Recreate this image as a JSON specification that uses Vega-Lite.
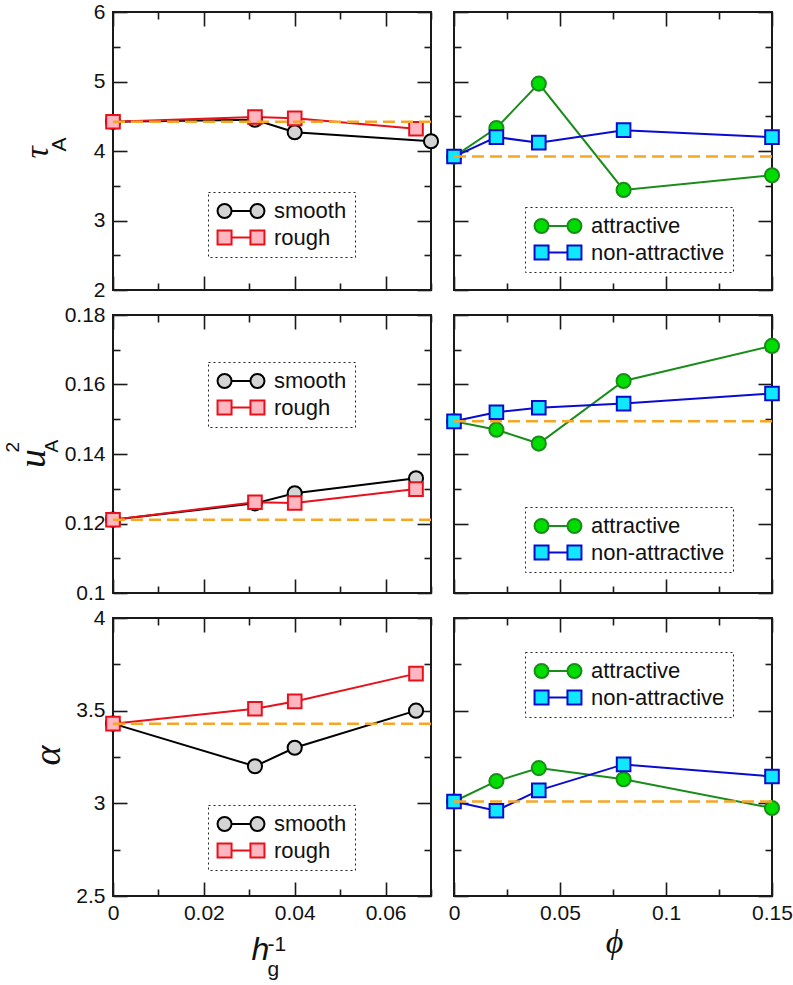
{
"$schema": "https://vega.github.io/schema/vega-lite/v6.json",
"background": "white",
"padding": {"left": 2, "top": 0, "right": 0, "bottom": 0},
"datasets": {
"pts": [
{"p":"tau_h","s":"smooth","x":0,"y":4.42},{"p":"tau_h","s":"smooth","x":0.03125,"y":4.45},{"p":"tau_h","s":"smooth","x":0.04,"y":4.27},{"p":"tau_h","s":"smooth","x":0.07,"y":4.14},
{"p":"tau_h","s":"rough","x":0,"y":4.42},{"p":"tau_h","s":"rough","x":0.03125,"y":4.49},{"p":"tau_h","s":"rough","x":0.04,"y":4.47},{"p":"tau_h","s":"rough","x":0.0667,"y":4.32},
{"p":"tau_phi","s":"attractive","x":0,"y":3.92},{"p":"tau_phi","s":"attractive","x":0.02,"y":4.33},{"p":"tau_phi","s":"attractive","x":0.04,"y":4.97},{"p":"tau_phi","s":"attractive","x":0.08,"y":3.44},{"p":"tau_phi","s":"attractive","x":0.15,"y":3.65},
{"p":"tau_phi","s":"non-attractive","x":0,"y":3.92},{"p":"tau_phi","s":"non-attractive","x":0.02,"y":4.2},{"p":"tau_phi","s":"non-attractive","x":0.04,"y":4.12},{"p":"tau_phi","s":"non-attractive","x":0.08,"y":4.3},{"p":"tau_phi","s":"non-attractive","x":0.15,"y":4.2},
{"p":"u_h","s":"smooth","x":0,"y":0.1211},{"p":"u_h","s":"smooth","x":0.03125,"y":0.1258},{"p":"u_h","s":"smooth","x":0.04,"y":0.1287},{"p":"u_h","s":"smooth","x":0.0667,"y":0.133},
{"p":"u_h","s":"rough","x":0,"y":0.1211},{"p":"u_h","s":"rough","x":0.03125,"y":0.1261},{"p":"u_h","s":"rough","x":0.04,"y":0.1259},{"p":"u_h","s":"rough","x":0.0667,"y":0.1299},
{"p":"u_phi","s":"attractive","x":0,"y":0.1494},{"p":"u_phi","s":"attractive","x":0.02,"y":0.147},{"p":"u_phi","s":"attractive","x":0.04,"y":0.143},{"p":"u_phi","s":"attractive","x":0.08,"y":0.161},{"p":"u_phi","s":"attractive","x":0.15,"y":0.1711},
{"p":"u_phi","s":"non-attractive","x":0,"y":0.1494},{"p":"u_phi","s":"non-attractive","x":0.02,"y":0.152},{"p":"u_phi","s":"non-attractive","x":0.04,"y":0.1533},{"p":"u_phi","s":"non-attractive","x":0.08,"y":0.1545},{"p":"u_phi","s":"non-attractive","x":0.15,"y":0.1574},
{"p":"a_h","s":"smooth","x":0,"y":3.43},{"p":"a_h","s":"smooth","x":0.03125,"y":3.2},{"p":"a_h","s":"smooth","x":0.04,"y":3.3},{"p":"a_h","s":"smooth","x":0.0667,"y":3.5},
{"p":"a_h","s":"rough","x":0,"y":3.43},{"p":"a_h","s":"rough","x":0.03125,"y":3.51},{"p":"a_h","s":"rough","x":0.04,"y":3.55},{"p":"a_h","s":"rough","x":0.0667,"y":3.7},
{"p":"a_phi","s":"attractive","x":0,"y":3.01},{"p":"a_phi","s":"attractive","x":0.02,"y":3.12},{"p":"a_phi","s":"attractive","x":0.04,"y":3.19},{"p":"a_phi","s":"attractive","x":0.08,"y":3.13},{"p":"a_phi","s":"attractive","x":0.15,"y":2.975},
{"p":"a_phi","s":"non-attractive","x":0,"y":3.01},{"p":"a_phi","s":"non-attractive","x":0.02,"y":2.96},{"p":"a_phi","s":"non-attractive","x":0.04,"y":3.07},{"p":"a_phi","s":"non-attractive","x":0.08,"y":3.21},{"p":"a_phi","s":"non-attractive","x":0.15,"y":3.145}
],
"base": [
{"p":"tau_h","y":4.42},{"p":"tau_phi","y":3.92},{"p":"u_h","y":0.1211},{"p":"u_phi","y":0.1494},{"p":"a_h","y":3.43},{"p":"a_phi","y":3.01}
]
},
"config": {
"view": {"stroke": "#1a1a1a", "strokeWidth": 2},
"axis": {"domain": false, "grid": false, "labelFont": "Liberation Sans", "labelFontSize": 21, "labelColor": "#111", "tickColor": "#1a1a1a", "tickWidth": 1.6, "titleColor": "#111", "titleFontWeight": "normal", "labelOverlap": false, "labelFlush": false, "labelBound": false},
"legend": {"labelFont": "Liberation Sans", "labelFontSize": 22, "labelColor": "#111", "title": null, "symbolSize": 196, "symbolStrokeWidth": 2, "symbolOffset": 14, "labelOffset": 22, "rowPadding": 3.5, "padding": 8, "strokeColor": "#222"}
},
"columns": 2,
"spacing": {"row": 2, "column": -3},
"resolve": {"scale": {"x": "independent", "y": "independent", "stroke": "independent", "fill": "independent"}, "legend": {"stroke": "independent", "fill": "independent"}},
"concat": [
{
"width": 318, "height": 278,
"resolve": {"axis": {"x": "independent", "y": "independent"}},
"layer": [
{"data": {"name": "pts"}, "transform": [{"filter": "datum.p === 'tau_h'"}],
 "mark": {"type": "line", "strokeWidth": 2},
 "encoding": {
  "x": {"field": "x", "type": "quantitative", "scale": {"domain": [0, 0.07], "nice": false, "zero": false}, "axis": {"orient": "bottom", "values": [0,0.01,0.02,0.03,0.04,0.05,0.06,0.07], "tickSize": {"condition": {"test": "round(datum.value*100) % 2 === 0", "value": -14}, "value": -7}, "labels": false, "title": null}},
  "y": {"field": "y", "type": "quantitative", "scale": {"domain": [2, 6], "nice": false, "zero": false}, "axis": {"orient": "right", "values": [2,2.5,3,3.5,4,4.5,5,5.5,6], "tickSize": {"condition": {"test": "round(datum.value*2) % 2 === 0", "value": -14}, "value": -7}, "labels": false, "title": null}},
  "stroke": {"field": "s", "type": "nominal", "scale": {"domain": ["smooth", "rough"], "range": ["#000000", "#e8101a"]},
   "legend": {"orient": "none", "legendX": 95, "legendY": 180, "symbolType": {"expr": "datum.value === 'smooth' ? 'M-3.35,0A1,1,0,1,1,-1.35,0A1,1,0,1,1,-3.35,0ZM-1.35,0L1.35,0M1.35,0A1,1,0,1,1,3.35,0A1,1,0,1,1,1.35,0Z' : 'M-3.35,-1H-1.35V1H-3.35ZM-1.35,0H1.35M1.35,-1H3.35V1H1.35Z'"}, "encode": {"legend": {"update": {"strokeDash": {"value": [2, 3]}}}, "symbols": {"update": {"fill": {"condition": {"test": "datum.value === 'smooth'", "value": "#d4d4d4"}, "value": "#ffb6c1"}}}}}}
 }},
{"data": {"name": "pts"}, "transform": [{"filter": "datum.p === 'tau_h' && datum.s === 'smooth'"}],
 "mark": {"type": "circle", "size": 200, "strokeWidth": 2, "opacity": 1},
 "encoding": {
  "x": {"field": "x", "type": "quantitative", "scale": {"domain": [0, 0.07], "nice": false, "zero": false}, "axis": {"orient": "top", "values": [0,0.01,0.02,0.03,0.04,0.05,0.06,0.07], "tickSize": {"condition": {"test": "round(datum.value*100) % 2 === 0", "value": -14}, "value": -7}, "labels": false, "title": null}},
  "y": {"field": "y", "type": "quantitative", "scale": {"domain": [2, 6], "nice": false, "zero": false}, "axis": {"orient": "left", "ticks": false, "labels": false, "title": "A", "titleFont": "Liberation Sans", "titleFontSize": 21, "titleAngle": 270, "titleAlign": "center", "titleBaseline": "alphabetic", "titleX": -48, "titleY": 132}},
  "stroke": {"field": "s", "type": "nominal", "scale": {"domain": ["smooth", "rough"], "range": ["#000000", "#e8101a"]},
   "legend": {"orient": "none", "legendX": 95, "legendY": 180, "symbolType": {"expr": "datum.value === 'smooth' ? 'M-3.35,0A1,1,0,1,1,-1.35,0A1,1,0,1,1,-3.35,0ZM-1.35,0L1.35,0M1.35,0A1,1,0,1,1,3.35,0A1,1,0,1,1,1.35,0Z' : 'M-3.35,-1H-1.35V1H-3.35ZM-1.35,0H1.35M1.35,-1H3.35V1H1.35Z'"}, "encode": {"legend": {"update": {"strokeDash": {"value": [2, 3]}}}, "symbols": {"update": {"fill": {"condition": {"test": "datum.value === 'smooth'", "value": "#d4d4d4"}, "value": "#ffb6c1"}}}}}},
  "fill": {"field": "s", "type": "nominal", "scale": {"domain": ["smooth", "rough"], "range": ["#d4d4d4", "#ffb6c1"]}, "legend": null}
 }},
{"data": {"name": "pts"}, "transform": [{"filter": "datum.p === 'tau_h' && datum.s === 'rough'"}],
 "mark": {"type": "square", "size": 185, "strokeWidth": 2, "opacity": 1},
 "encoding": {
  "x": {"field": "x", "type": "quantitative", "scale": {"domain": [0, 0.07], "nice": false, "zero": false}, "axis": null},
  "y": {"field": "y", "type": "quantitative", "scale": {"domain": [2, 6], "nice": false, "zero": false}, "axis": null},
  "stroke": {"field": "s", "type": "nominal", "scale": {"domain": ["smooth", "rough"], "range": ["#000000", "#e8101a"]},
   "legend": {"orient": "none", "legendX": 95, "legendY": 180, "symbolType": {"expr": "datum.value === 'smooth' ? 'M-3.35,0A1,1,0,1,1,-1.35,0A1,1,0,1,1,-3.35,0ZM-1.35,0L1.35,0M1.35,0A1,1,0,1,1,3.35,0A1,1,0,1,1,1.35,0Z' : 'M-3.35,-1H-1.35V1H-3.35ZM-1.35,0H1.35M1.35,-1H3.35V1H1.35Z'"}, "encode": {"legend": {"update": {"strokeDash": {"value": [2, 3]}}}, "symbols": {"update": {"fill": {"condition": {"test": "datum.value === 'smooth'", "value": "#d4d4d4"}, "value": "#ffb6c1"}}}}}},
  "fill": {"field": "s", "type": "nominal", "scale": {"domain": ["smooth", "rough"], "range": ["#d4d4d4", "#ffb6c1"]}, "legend": null}
 }},
{"data": {"name": "base"}, "transform": [{"filter": "datum.p === 'tau_h'"}],
 "mark": {"type": "rule", "strokeDash": [12, 6], "strokeWidth": 2.5, "color": "#f5a623"},
 "encoding": {
  "y": {"field": "y", "type": "quantitative", "scale": {"domain": [2, 6], "nice": false, "zero": false}, "axis": {"orient": "left", "values": [2,2.5,3,3.5,4,4.5,5,5.5,6], "tickSize": {"condition": {"test": "round(datum.value*2) % 2 === 0", "value": -14}, "value": -7}, "labelExpr": "round(datum.value*2) % 2 === 0 ? format(datum.value, '~g') : ''", "labelPadding": 22, "title": "τ", "titleFont": "Liberation Serif", "titleFontStyle": "italic", "titleFontSize": 34, "titleAngle": 270, "titleAlign": "center", "titleBaseline": "alphabetic", "titleX": -66, "titleY": 140}}
 }}
]
},
{
"width": 318, "height": 278,
"resolve": {"axis": {"x": "independent", "y": "independent"}},
"layer": [
{"data": {"name": "pts"}, "transform": [{"filter": "datum.p === 'tau_phi'"}],
 "mark": {"type": "line", "strokeWidth": 2},
 "encoding": {
  "x": {"field": "x", "type": "quantitative", "scale": {"domain": [0, 0.15], "nice": false, "zero": false}, "axis": {"orient": "bottom", "values": [0,0.025,0.05,0.075,0.1,0.125,0.15], "tickSize": {"condition": {"test": "round(datum.value*40) % 2 === 0", "value": -14}, "value": -7}, "labels": false, "title": null}},
  "y": {"field": "y", "type": "quantitative", "scale": {"domain": [2, 6], "nice": false, "zero": false}, "axis": {"orient": "right", "values": [2,2.5,3,3.5,4,4.5,5,5.5,6], "tickSize": {"condition": {"test": "round(datum.value*2) % 2 === 0", "value": -14}, "value": -7}, "labels": false, "title": null}},
  "stroke": {"field": "s", "type": "nominal", "scale": {"domain": ["attractive", "non-attractive"], "range": ["#1a8c1a", "#0a0ad0"]},
   "legend": {"orient": "none", "legendX": 71, "legendY": 195, "symbolType": {"expr": "datum.value === 'attractive' ? 'M-3.35,0A1,1,0,1,1,-1.35,0A1,1,0,1,1,-3.35,0ZM-1.35,0L1.35,0M1.35,0A1,1,0,1,1,3.35,0A1,1,0,1,1,1.35,0Z' : 'M-3.35,-1H-1.35V1H-3.35ZM-1.35,0H1.35M1.35,-1H3.35V1H1.35Z'"}, "encode": {"legend": {"update": {"strokeDash": {"value": [2, 3]}}}, "symbols": {"update": {"fill": {"condition": {"test": "datum.value === 'attractive'", "value": "#00dd00"}, "value": "#10e8ff"}}}}}}
 }},
{"data": {"name": "pts"}, "transform": [{"filter": "datum.p === 'tau_phi' && datum.s === 'attractive'"}],
 "mark": {"type": "circle", "size": 200, "strokeWidth": 2, "opacity": 1},
 "encoding": {
  "x": {"field": "x", "type": "quantitative", "scale": {"domain": [0, 0.15], "nice": false, "zero": false}, "axis": {"orient": "top", "values": [0,0.025,0.05,0.075,0.1,0.125,0.15], "tickSize": {"condition": {"test": "round(datum.value*40) % 2 === 0", "value": -14}, "value": -7}, "labels": false, "title": null}},
  "y": {"field": "y", "type": "quantitative", "scale": {"domain": [2, 6], "nice": false, "zero": false}, "axis": null},
  "stroke": {"field": "s", "type": "nominal", "scale": {"domain": ["attractive", "non-attractive"], "range": ["#1a8c1a", "#0a0ad0"]},
   "legend": {"orient": "none", "legendX": 71, "legendY": 195, "symbolType": {"expr": "datum.value === 'attractive' ? 'M-3.35,0A1,1,0,1,1,-1.35,0A1,1,0,1,1,-3.35,0ZM-1.35,0L1.35,0M1.35,0A1,1,0,1,1,3.35,0A1,1,0,1,1,1.35,0Z' : 'M-3.35,-1H-1.35V1H-3.35ZM-1.35,0H1.35M1.35,-1H3.35V1H1.35Z'"}, "encode": {"legend": {"update": {"strokeDash": {"value": [2, 3]}}}, "symbols": {"update": {"fill": {"condition": {"test": "datum.value === 'attractive'", "value": "#00dd00"}, "value": "#10e8ff"}}}}}},
  "fill": {"field": "s", "type": "nominal", "scale": {"domain": ["attractive", "non-attractive"], "range": ["#00dd00", "#10e8ff"]}, "legend": null}
 }},
{"data": {"name": "pts"}, "transform": [{"filter": "datum.p === 'tau_phi' && datum.s === 'non-attractive'"}],
 "mark": {"type": "square", "size": 185, "strokeWidth": 2, "opacity": 1},
 "encoding": {
  "x": {"field": "x", "type": "quantitative", "scale": {"domain": [0, 0.15], "nice": false, "zero": false}, "axis": null},
  "y": {"field": "y", "type": "quantitative", "scale": {"domain": [2, 6], "nice": false, "zero": false}, "axis": null},
  "stroke": {"field": "s", "type": "nominal", "scale": {"domain": ["attractive", "non-attractive"], "range": ["#1a8c1a", "#0a0ad0"]},
   "legend": {"orient": "none", "legendX": 71, "legendY": 195, "symbolType": {"expr": "datum.value === 'attractive' ? 'M-3.35,0A1,1,0,1,1,-1.35,0A1,1,0,1,1,-3.35,0ZM-1.35,0L1.35,0M1.35,0A1,1,0,1,1,3.35,0A1,1,0,1,1,1.35,0Z' : 'M-3.35,-1H-1.35V1H-3.35ZM-1.35,0H1.35M1.35,-1H3.35V1H1.35Z'"}, "encode": {"legend": {"update": {"strokeDash": {"value": [2, 3]}}}, "symbols": {"update": {"fill": {"condition": {"test": "datum.value === 'attractive'", "value": "#00dd00"}, "value": "#10e8ff"}}}}}},
  "fill": {"field": "s", "type": "nominal", "scale": {"domain": ["attractive", "non-attractive"], "range": ["#00dd00", "#10e8ff"]}, "legend": null}
 }},
{"data": {"name": "base"}, "transform": [{"filter": "datum.p === 'tau_phi'"}],
 "mark": {"type": "rule", "strokeDash": [12, 6], "strokeWidth": 2.5, "color": "#f5a623"},
 "encoding": {
  "y": {"field": "y", "type": "quantitative", "scale": {"domain": [2, 6], "nice": false, "zero": false}, "axis": {"orient": "left", "values": [2,2.5,3,3.5,4,4.5,5,5.5,6], "tickSize": {"condition": {"test": "round(datum.value*2) % 2 === 0", "value": -14}, "value": -7}, "labels": false, "title": null}}
 }}
]
},
{
"width": 318, "height": 278,
"resolve": {"axis": {"x": "independent", "y": "independent"}},
"layer": [
{"data": {"name": "pts"}, "transform": [{"filter": "datum.p === 'u_h'"}],
 "mark": {"type": "line", "strokeWidth": 2},
 "encoding": {
  "x": {"field": "x", "type": "quantitative", "scale": {"domain": [0, 0.07], "nice": false, "zero": false}, "axis": {"orient": "bottom", "values": [0,0.01,0.02,0.03,0.04,0.05,0.06,0.07], "tickSize": {"condition": {"test": "round(datum.value*100) % 2 === 0", "value": -14}, "value": -7}, "labels": false, "title": null}},
  "y": {"field": "y", "type": "quantitative", "scale": {"domain": [0.1, 0.18], "nice": false, "zero": false}, "axis": {"orient": "right", "values": [0.1,0.11,0.12,0.13,0.14,0.15,0.16,0.17,0.18], "tickSize": {"condition": {"test": "round(datum.value*100) % 2 === 0", "value": -14}, "value": -7}, "labels": false, "title": null}},
  "stroke": {"field": "s", "type": "nominal", "scale": {"domain": ["smooth", "rough"], "range": ["#000000", "#e8101a"]},
   "legend": {"orient": "none", "legendX": 95, "legendY": 47, "symbolType": {"expr": "datum.value === 'smooth' ? 'M-3.35,0A1,1,0,1,1,-1.35,0A1,1,0,1,1,-3.35,0ZM-1.35,0L1.35,0M1.35,0A1,1,0,1,1,3.35,0A1,1,0,1,1,1.35,0Z' : 'M-3.35,-1H-1.35V1H-3.35ZM-1.35,0H1.35M1.35,-1H3.35V1H1.35Z'"}, "encode": {"legend": {"update": {"strokeDash": {"value": [2, 3]}}}, "symbols": {"update": {"fill": {"condition": {"test": "datum.value === 'smooth'", "value": "#d4d4d4"}, "value": "#ffb6c1"}}}}}}
 }},
{"data": {"name": "pts"}, "transform": [{"filter": "datum.p === 'u_h' && datum.s === 'smooth'"}],
 "mark": {"type": "circle", "size": 200, "strokeWidth": 2, "opacity": 1},
 "encoding": {
  "x": {"field": "x", "type": "quantitative", "scale": {"domain": [0, 0.07], "nice": false, "zero": false}, "axis": {"orient": "top", "values": [0,0.01,0.02,0.03,0.04,0.05,0.06,0.07], "tickSize": {"condition": {"test": "round(datum.value*100) % 2 === 0", "value": -14}, "value": -7}, "labels": false, "title": null}},
  "y": {"field": "y", "type": "quantitative", "scale": {"domain": [0.1, 0.18], "nice": false, "zero": false}, "axis": {"orient": "left", "ticks": false, "labels": false, "title": ["2", "A"], "titleFont": "Liberation Sans", "titleFontSize": 19, "titleAngle": 270, "titleAlign": "left", "titleBaseline": "alphabetic", "titleX": -95, "titleY": 137, "titleLineHeight": 39}},
  "stroke": {"field": "s", "type": "nominal", "scale": {"domain": ["smooth", "rough"], "range": ["#000000", "#e8101a"]},
   "legend": {"orient": "none", "legendX": 95, "legendY": 47, "symbolType": {"expr": "datum.value === 'smooth' ? 'M-3.35,0A1,1,0,1,1,-1.35,0A1,1,0,1,1,-3.35,0ZM-1.35,0L1.35,0M1.35,0A1,1,0,1,1,3.35,0A1,1,0,1,1,1.35,0Z' : 'M-3.35,-1H-1.35V1H-3.35ZM-1.35,0H1.35M1.35,-1H3.35V1H1.35Z'"}, "encode": {"legend": {"update": {"strokeDash": {"value": [2, 3]}}}, "symbols": {"update": {"fill": {"condition": {"test": "datum.value === 'smooth'", "value": "#d4d4d4"}, "value": "#ffb6c1"}}}}}},
  "fill": {"field": "s", "type": "nominal", "scale": {"domain": ["smooth", "rough"], "range": ["#d4d4d4", "#ffb6c1"]}, "legend": null}
 }},
{"data": {"name": "pts"}, "transform": [{"filter": "datum.p === 'u_h' && datum.s === 'rough'"}],
 "mark": {"type": "square", "size": 185, "strokeWidth": 2, "opacity": 1},
 "encoding": {
  "x": {"field": "x", "type": "quantitative", "scale": {"domain": [0, 0.07], "nice": false, "zero": false}, "axis": null},
  "y": {"field": "y", "type": "quantitative", "scale": {"domain": [0.1, 0.18], "nice": false, "zero": false}, "axis": null},
  "stroke": {"field": "s", "type": "nominal", "scale": {"domain": ["smooth", "rough"], "range": ["#000000", "#e8101a"]},
   "legend": {"orient": "none", "legendX": 95, "legendY": 47, "symbolType": {"expr": "datum.value === 'smooth' ? 'M-3.35,0A1,1,0,1,1,-1.35,0A1,1,0,1,1,-3.35,0ZM-1.35,0L1.35,0M1.35,0A1,1,0,1,1,3.35,0A1,1,0,1,1,1.35,0Z' : 'M-3.35,-1H-1.35V1H-3.35ZM-1.35,0H1.35M1.35,-1H3.35V1H1.35Z'"}, "encode": {"legend": {"update": {"strokeDash": {"value": [2, 3]}}}, "symbols": {"update": {"fill": {"condition": {"test": "datum.value === 'smooth'", "value": "#d4d4d4"}, "value": "#ffb6c1"}}}}}},
  "fill": {"field": "s", "type": "nominal", "scale": {"domain": ["smooth", "rough"], "range": ["#d4d4d4", "#ffb6c1"]}, "legend": null}
 }},
{"data": {"name": "base"}, "transform": [{"filter": "datum.p === 'u_h'"}],
 "mark": {"type": "rule", "strokeDash": [12, 6], "strokeWidth": 2.5, "color": "#f5a623"},
 "encoding": {
  "y": {"field": "y", "type": "quantitative", "scale": {"domain": [0.1, 0.18], "nice": false, "zero": false}, "axis": {"orient": "left", "values": [0.1,0.11,0.12,0.13,0.14,0.15,0.16,0.17,0.18], "tickSize": {"condition": {"test": "round(datum.value*100) % 2 === 0", "value": -14}, "value": -7}, "labelExpr": "round(datum.value*100) % 2 === 0 ? format(datum.value, '~g') : ''", "labelPadding": 22, "title": "u", "titleFont": "Liberation Serif", "titleFontStyle": "italic", "titleFontSize": 38, "titleAngle": 270, "titleAlign": "center", "titleBaseline": "alphabetic", "titleX": -69, "titleY": 143}}
 }}
]
},
{
"width": 318, "height": 278,
"resolve": {"axis": {"x": "independent", "y": "independent"}},
"layer": [
{"data": {"name": "pts"}, "transform": [{"filter": "datum.p === 'u_phi'"}],
 "mark": {"type": "line", "strokeWidth": 2},
 "encoding": {
  "x": {"field": "x", "type": "quantitative", "scale": {"domain": [0, 0.15], "nice": false, "zero": false}, "axis": {"orient": "bottom", "values": [0,0.025,0.05,0.075,0.1,0.125,0.15], "tickSize": {"condition": {"test": "round(datum.value*40) % 2 === 0", "value": -14}, "value": -7}, "labels": false, "title": null}},
  "y": {"field": "y", "type": "quantitative", "scale": {"domain": [0.1, 0.18], "nice": false, "zero": false}, "axis": {"orient": "right", "values": [0.1,0.11,0.12,0.13,0.14,0.15,0.16,0.17,0.18], "tickSize": {"condition": {"test": "round(datum.value*100) % 2 === 0", "value": -14}, "value": -7}, "labels": false, "title": null}},
  "stroke": {"field": "s", "type": "nominal", "scale": {"domain": ["attractive", "non-attractive"], "range": ["#1a8c1a", "#0a0ad0"]},
   "legend": {"orient": "none", "legendX": 71, "legendY": 192, "symbolType": {"expr": "datum.value === 'attractive' ? 'M-3.35,0A1,1,0,1,1,-1.35,0A1,1,0,1,1,-3.35,0ZM-1.35,0L1.35,0M1.35,0A1,1,0,1,1,3.35,0A1,1,0,1,1,1.35,0Z' : 'M-3.35,-1H-1.35V1H-3.35ZM-1.35,0H1.35M1.35,-1H3.35V1H1.35Z'"}, "encode": {"legend": {"update": {"strokeDash": {"value": [2, 3]}}}, "symbols": {"update": {"fill": {"condition": {"test": "datum.value === 'attractive'", "value": "#00dd00"}, "value": "#10e8ff"}}}}}}
 }},
{"data": {"name": "pts"}, "transform": [{"filter": "datum.p === 'u_phi' && datum.s === 'attractive'"}],
 "mark": {"type": "circle", "size": 200, "strokeWidth": 2, "opacity": 1},
 "encoding": {
  "x": {"field": "x", "type": "quantitative", "scale": {"domain": [0, 0.15], "nice": false, "zero": false}, "axis": {"orient": "top", "values": [0,0.025,0.05,0.075,0.1,0.125,0.15], "tickSize": {"condition": {"test": "round(datum.value*40) % 2 === 0", "value": -14}, "value": -7}, "labels": false, "title": null}},
  "y": {"field": "y", "type": "quantitative", "scale": {"domain": [0.1, 0.18], "nice": false, "zero": false}, "axis": null},
  "stroke": {"field": "s", "type": "nominal", "scale": {"domain": ["attractive", "non-attractive"], "range": ["#1a8c1a", "#0a0ad0"]},
   "legend": {"orient": "none", "legendX": 71, "legendY": 192, "symbolType": {"expr": "datum.value === 'attractive' ? 'M-3.35,0A1,1,0,1,1,-1.35,0A1,1,0,1,1,-3.35,0ZM-1.35,0L1.35,0M1.35,0A1,1,0,1,1,3.35,0A1,1,0,1,1,1.35,0Z' : 'M-3.35,-1H-1.35V1H-3.35ZM-1.35,0H1.35M1.35,-1H3.35V1H1.35Z'"}, "encode": {"legend": {"update": {"strokeDash": {"value": [2, 3]}}}, "symbols": {"update": {"fill": {"condition": {"test": "datum.value === 'attractive'", "value": "#00dd00"}, "value": "#10e8ff"}}}}}},
  "fill": {"field": "s", "type": "nominal", "scale": {"domain": ["attractive", "non-attractive"], "range": ["#00dd00", "#10e8ff"]}, "legend": null}
 }},
{"data": {"name": "pts"}, "transform": [{"filter": "datum.p === 'u_phi' && datum.s === 'non-attractive'"}],
 "mark": {"type": "square", "size": 185, "strokeWidth": 2, "opacity": 1},
 "encoding": {
  "x": {"field": "x", "type": "quantitative", "scale": {"domain": [0, 0.15], "nice": false, "zero": false}, "axis": null},
  "y": {"field": "y", "type": "quantitative", "scale": {"domain": [0.1, 0.18], "nice": false, "zero": false}, "axis": null},
  "stroke": {"field": "s", "type": "nominal", "scale": {"domain": ["attractive", "non-attractive"], "range": ["#1a8c1a", "#0a0ad0"]},
   "legend": {"orient": "none", "legendX": 71, "legendY": 192, "symbolType": {"expr": "datum.value === 'attractive' ? 'M-3.35,0A1,1,0,1,1,-1.35,0A1,1,0,1,1,-3.35,0ZM-1.35,0L1.35,0M1.35,0A1,1,0,1,1,3.35,0A1,1,0,1,1,1.35,0Z' : 'M-3.35,-1H-1.35V1H-3.35ZM-1.35,0H1.35M1.35,-1H3.35V1H1.35Z'"}, "encode": {"legend": {"update": {"strokeDash": {"value": [2, 3]}}}, "symbols": {"update": {"fill": {"condition": {"test": "datum.value === 'attractive'", "value": "#00dd00"}, "value": "#10e8ff"}}}}}},
  "fill": {"field": "s", "type": "nominal", "scale": {"domain": ["attractive", "non-attractive"], "range": ["#00dd00", "#10e8ff"]}, "legend": null}
 }},
{"data": {"name": "base"}, "transform": [{"filter": "datum.p === 'u_phi'"}],
 "mark": {"type": "rule", "strokeDash": [12, 6], "strokeWidth": 2.5, "color": "#f5a623"},
 "encoding": {
  "y": {"field": "y", "type": "quantitative", "scale": {"domain": [0.1, 0.18], "nice": false, "zero": false}, "axis": {"orient": "left", "values": [0.1,0.11,0.12,0.13,0.14,0.15,0.16,0.17,0.18], "tickSize": {"condition": {"test": "round(datum.value*100) % 2 === 0", "value": -14}, "value": -7}, "labels": false, "title": null}}
 }}
]
},
{
"width": 318, "height": 278,
"resolve": {"axis": {"x": "independent", "y": "independent"}},
"layer": [
{"data": {"name": "pts"}, "transform": [{"filter": "datum.p === 'a_h'"}],
 "mark": {"type": "line", "strokeWidth": 2},
 "encoding": {
  "x": {"field": "x", "type": "quantitative", "scale": {"domain": [0, 0.07], "nice": false, "zero": false}, "axis": {"orient": "bottom", "values": [0,0.01,0.02,0.03,0.04,0.05,0.06,0.07], "tickSize": {"condition": {"test": "round(datum.value*100) % 2 === 0", "value": -14}, "value": -7}, "labelExpr": "round(datum.value*100) % 2 === 0 ? format(datum.value, '~g') : ''", "labelPadding": 20, "title": "h", "titleFont": "Liberation Sans", "titleFontStyle": "italic", "titleFontSize": 32, "titleAngle": 0, "titleAlign": "center", "titleBaseline": "alphabetic", "titleX": 147, "titleY": 63}},
  "y": {"field": "y", "type": "quantitative", "scale": {"domain": [2.5, 4], "nice": false, "zero": false}, "axis": {"orient": "right", "values": [2.5,2.75,3,3.25,3.5,3.75,4], "tickSize": {"condition": {"test": "round(datum.value*4) % 2 === 0", "value": -14}, "value": -7}, "labels": false, "title": null}},
  "stroke": {"field": "s", "type": "nominal", "scale": {"domain": ["smooth", "rough"], "range": ["#000000", "#e8101a"]},
   "legend": {"orient": "none", "legendX": 95, "legendY": 187, "symbolType": {"expr": "datum.value === 'smooth' ? 'M-3.35,0A1,1,0,1,1,-1.35,0A1,1,0,1,1,-3.35,0ZM-1.35,0L1.35,0M1.35,0A1,1,0,1,1,3.35,0A1,1,0,1,1,1.35,0Z' : 'M-3.35,-1H-1.35V1H-3.35ZM-1.35,0H1.35M1.35,-1H3.35V1H1.35Z'"}, "encode": {"legend": {"update": {"strokeDash": {"value": [2, 3]}}}, "symbols": {"update": {"fill": {"condition": {"test": "datum.value === 'smooth'", "value": "#d4d4d4"}, "value": "#ffb6c1"}}}}}}
 }},
{"data": {"name": "pts"}, "transform": [{"filter": "datum.p === 'a_h' && datum.s === 'smooth'"}],
 "mark": {"type": "circle", "size": 200, "strokeWidth": 2, "opacity": 1},
 "encoding": {
  "x": {"field": "x", "type": "quantitative", "scale": {"domain": [0, 0.07], "nice": false, "zero": false}, "axis": {"orient": "top", "values": [0,0.01,0.02,0.03,0.04,0.05,0.06,0.07], "tickSize": {"condition": {"test": "round(datum.value*100) % 2 === 0", "value": -14}, "value": -7}, "labels": false, "title": null}},
  "y": {"field": "y", "type": "quantitative", "scale": {"domain": [2.5, 4], "nice": false, "zero": false}, "axis": null},
  "stroke": {"field": "s", "type": "nominal", "scale": {"domain": ["smooth", "rough"], "range": ["#000000", "#e8101a"]},
   "legend": {"orient": "none", "legendX": 95, "legendY": 187, "symbolType": {"expr": "datum.value === 'smooth' ? 'M-3.35,0A1,1,0,1,1,-1.35,0A1,1,0,1,1,-3.35,0ZM-1.35,0L1.35,0M1.35,0A1,1,0,1,1,3.35,0A1,1,0,1,1,1.35,0Z' : 'M-3.35,-1H-1.35V1H-3.35ZM-1.35,0H1.35M1.35,-1H3.35V1H1.35Z'"}, "encode": {"legend": {"update": {"strokeDash": {"value": [2, 3]}}}, "symbols": {"update": {"fill": {"condition": {"test": "datum.value === 'smooth'", "value": "#d4d4d4"}, "value": "#ffb6c1"}}}}}},
  "fill": {"field": "s", "type": "nominal", "scale": {"domain": ["smooth", "rough"], "range": ["#d4d4d4", "#ffb6c1"]}, "legend": null}
 }},
{"data": {"name": "pts"}, "transform": [{"filter": "datum.p === 'a_h' && datum.s === 'rough'"}],
 "mark": {"type": "square", "size": 185, "strokeWidth": 2, "opacity": 1},
 "encoding": {
  "x": {"field": "x", "type": "quantitative", "scale": {"domain": [0, 0.07], "nice": false, "zero": false}, "axis": {"orient": "bottom", "ticks": false, "labels": false, "title": ["-1", "g"], "titleFont": "Liberation Sans", "titleFontSize": 21, "titleAngle": 0, "titleAlign": "left", "titleBaseline": "alphabetic", "titleX": 154, "titleY": 54, "titleLineHeight": 25}},
  "y": {"field": "y", "type": "quantitative", "scale": {"domain": [2.5, 4], "nice": false, "zero": false}, "axis": null},
  "stroke": {"field": "s", "type": "nominal", "scale": {"domain": ["smooth", "rough"], "range": ["#000000", "#e8101a"]},
   "legend": {"orient": "none", "legendX": 95, "legendY": 187, "symbolType": {"expr": "datum.value === 'smooth' ? 'M-3.35,0A1,1,0,1,1,-1.35,0A1,1,0,1,1,-3.35,0ZM-1.35,0L1.35,0M1.35,0A1,1,0,1,1,3.35,0A1,1,0,1,1,1.35,0Z' : 'M-3.35,-1H-1.35V1H-3.35ZM-1.35,0H1.35M1.35,-1H3.35V1H1.35Z'"}, "encode": {"legend": {"update": {"strokeDash": {"value": [2, 3]}}}, "symbols": {"update": {"fill": {"condition": {"test": "datum.value === 'smooth'", "value": "#d4d4d4"}, "value": "#ffb6c1"}}}}}},
  "fill": {"field": "s", "type": "nominal", "scale": {"domain": ["smooth", "rough"], "range": ["#d4d4d4", "#ffb6c1"]}, "legend": null}
 }},
{"data": {"name": "base"}, "transform": [{"filter": "datum.p === 'a_h'"}],
 "mark": {"type": "rule", "strokeDash": [12, 6], "strokeWidth": 2.5, "color": "#f5a623"},
 "encoding": {
  "y": {"field": "y", "type": "quantitative", "scale": {"domain": [2.5, 4], "nice": false, "zero": false}, "axis": {"orient": "left", "values": [2.5,2.75,3,3.25,3.5,3.75,4], "tickSize": {"condition": {"test": "round(datum.value*4) % 2 === 0", "value": -14}, "value": -7}, "labelExpr": "round(datum.value*4) % 2 === 0 ? format(datum.value, '~g') : ''", "labelPadding": 22, "title": "α", "titleFont": "Liberation Serif", "titleFontStyle": "italic", "titleFontSize": 38, "titleAngle": 270, "titleAlign": "center", "titleBaseline": "alphabetic", "titleX": -54, "titleY": 137}}
 }}
]
},
{
"width": 318, "height": 278,
"resolve": {"axis": {"x": "independent", "y": "independent"}},
"layer": [
{"data": {"name": "pts"}, "transform": [{"filter": "datum.p === 'a_phi'"}],
 "mark": {"type": "line", "strokeWidth": 2},
 "encoding": {
  "x": {"field": "x", "type": "quantitative", "scale": {"domain": [0, 0.15], "nice": false, "zero": false}, "axis": {"orient": "bottom", "values": [0,0.025,0.05,0.075,0.1,0.125,0.15], "tickSize": {"condition": {"test": "round(datum.value*40) % 2 === 0", "value": -14}, "value": -7}, "labelExpr": "round(datum.value*40) % 2 === 0 ? format(datum.value, '~g') : ''", "labelPadding": 20, "title": "ϕ", "titleFont": "Liberation Serif", "titleFontStyle": "italic", "titleFontSize": 34, "titleAngle": 0, "titleAlign": "center", "titleBaseline": "alphabetic", "titleX": 160, "titleY": 56}},
  "y": {"field": "y", "type": "quantitative", "scale": {"domain": [2.5, 4], "nice": false, "zero": false}, "axis": {"orient": "right", "values": [2.5,2.75,3,3.25,3.5,3.75,4], "tickSize": {"condition": {"test": "round(datum.value*4) % 2 === 0", "value": -14}, "value": -7}, "labels": false, "title": null}},
  "stroke": {"field": "s", "type": "nominal", "scale": {"domain": ["attractive", "non-attractive"], "range": ["#1a8c1a", "#0a0ad0"]},
   "legend": {"orient": "none", "legendX": 71, "legendY": 34, "symbolType": {"expr": "datum.value === 'attractive' ? 'M-3.35,0A1,1,0,1,1,-1.35,0A1,1,0,1,1,-3.35,0ZM-1.35,0L1.35,0M1.35,0A1,1,0,1,1,3.35,0A1,1,0,1,1,1.35,0Z' : 'M-3.35,-1H-1.35V1H-3.35ZM-1.35,0H1.35M1.35,-1H3.35V1H1.35Z'"}, "encode": {"legend": {"update": {"strokeDash": {"value": [2, 3]}}}, "symbols": {"update": {"fill": {"condition": {"test": "datum.value === 'attractive'", "value": "#00dd00"}, "value": "#10e8ff"}}}}}}
 }},
{"data": {"name": "pts"}, "transform": [{"filter": "datum.p === 'a_phi' && datum.s === 'attractive'"}],
 "mark": {"type": "circle", "size": 200, "strokeWidth": 2, "opacity": 1},
 "encoding": {
  "x": {"field": "x", "type": "quantitative", "scale": {"domain": [0, 0.15], "nice": false, "zero": false}, "axis": {"orient": "top", "values": [0,0.025,0.05,0.075,0.1,0.125,0.15], "tickSize": {"condition": {"test": "round(datum.value*40) % 2 === 0", "value": -14}, "value": -7}, "labels": false, "title": null}},
  "y": {"field": "y", "type": "quantitative", "scale": {"domain": [2.5, 4], "nice": false, "zero": false}, "axis": null},
  "stroke": {"field": "s", "type": "nominal", "scale": {"domain": ["attractive", "non-attractive"], "range": ["#1a8c1a", "#0a0ad0"]},
   "legend": {"orient": "none", "legendX": 71, "legendY": 34, "symbolType": {"expr": "datum.value === 'attractive' ? 'M-3.35,0A1,1,0,1,1,-1.35,0A1,1,0,1,1,-3.35,0ZM-1.35,0L1.35,0M1.35,0A1,1,0,1,1,3.35,0A1,1,0,1,1,1.35,0Z' : 'M-3.35,-1H-1.35V1H-3.35ZM-1.35,0H1.35M1.35,-1H3.35V1H1.35Z'"}, "encode": {"legend": {"update": {"strokeDash": {"value": [2, 3]}}}, "symbols": {"update": {"fill": {"condition": {"test": "datum.value === 'attractive'", "value": "#00dd00"}, "value": "#10e8ff"}}}}}},
  "fill": {"field": "s", "type": "nominal", "scale": {"domain": ["attractive", "non-attractive"], "range": ["#00dd00", "#10e8ff"]}, "legend": null}
 }},
{"data": {"name": "pts"}, "transform": [{"filter": "datum.p === 'a_phi' && datum.s === 'non-attractive'"}],
 "mark": {"type": "square", "size": 185, "strokeWidth": 2, "opacity": 1},
 "encoding": {
  "x": {"field": "x", "type": "quantitative", "scale": {"domain": [0, 0.15], "nice": false, "zero": false}, "axis": null},
  "y": {"field": "y", "type": "quantitative", "scale": {"domain": [2.5, 4], "nice": false, "zero": false}, "axis": null},
  "stroke": {"field": "s", "type": "nominal", "scale": {"domain": ["attractive", "non-attractive"], "range": ["#1a8c1a", "#0a0ad0"]},
   "legend": {"orient": "none", "legendX": 71, "legendY": 34, "symbolType": {"expr": "datum.value === 'attractive' ? 'M-3.35,0A1,1,0,1,1,-1.35,0A1,1,0,1,1,-3.35,0ZM-1.35,0L1.35,0M1.35,0A1,1,0,1,1,3.35,0A1,1,0,1,1,1.35,0Z' : 'M-3.35,-1H-1.35V1H-3.35ZM-1.35,0H1.35M1.35,-1H3.35V1H1.35Z'"}, "encode": {"legend": {"update": {"strokeDash": {"value": [2, 3]}}}, "symbols": {"update": {"fill": {"condition": {"test": "datum.value === 'attractive'", "value": "#00dd00"}, "value": "#10e8ff"}}}}}},
  "fill": {"field": "s", "type": "nominal", "scale": {"domain": ["attractive", "non-attractive"], "range": ["#00dd00", "#10e8ff"]}, "legend": null}
 }},
{"data": {"name": "base"}, "transform": [{"filter": "datum.p === 'a_phi'"}],
 "mark": {"type": "rule", "strokeDash": [12, 6], "strokeWidth": 2.5, "color": "#f5a623"},
 "encoding": {
  "y": {"field": "y", "type": "quantitative", "scale": {"domain": [2.5, 4], "nice": false, "zero": false}, "axis": {"orient": "left", "values": [2.5,2.75,3,3.25,3.5,3.75,4], "tickSize": {"condition": {"test": "round(datum.value*4) % 2 === 0", "value": -14}, "value": -7}, "labels": false, "title": null}}
 }}
]
}
]
}
